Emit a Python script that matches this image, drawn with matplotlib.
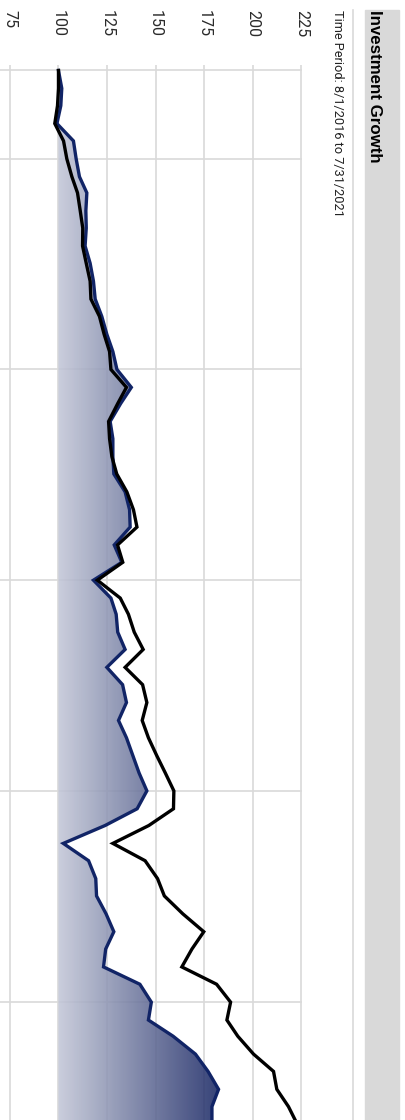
import numpy as np
import pandas as pd
import matplotlib
matplotlib.use('Agg')
import matplotlib.pyplot as plt
import matplotlib.dates as mdates
from matplotlib import font_manager
from matplotlib.colors import LinearSegmentedColormap
from matplotlib.lines import Line2D
from matplotlib.patches import Rectangle
from matplotlib.transforms import blended_transform_factory

# month-end values, growth of 100 from 7/31/2016
dates = pd.date_range('2016-07-31', periods=61, freq=pd.offsets.MonthEnd())
fund = [100.0, 101.7, 101.2, 99.2, 107.7, 109.1, 110.8, 114.6, 114.1, 114.3,
        113.7, 116.3, 118.0, 118.9, 122.3, 124.9, 128.0, 130.1, 137.5, 132.0,
        126.6, 128.0, 128.0, 128.5, 134.3, 136.6, 136.9, 128.7, 132.6, 118.0,
        127.0, 129.7, 130.5, 134.3, 124.9, 133.0, 135.0, 130.9, 135.0, 138.3,
        141.5, 145.5, 140.5, 124.0, 102.5, 115.5, 119.2, 119.6, 124.5, 128.5,
        124.3, 123.2, 141.9, 147.8, 146.3, 159.0, 170.5, 177.0, 182.4, 179.0,
        179.0]
bench = [100.0, 100.0, 99.5, 98.1, 102.6, 104.3, 106.9, 109.8, 111.2, 112.5,
         112.4, 114.3, 116.3, 116.7, 121.1, 123.5, 126.3, 127.0, 135.0, 130.5,
         125.8, 126.3, 127.5, 130.0, 135.2, 138.6, 140.4, 130.4, 133.1, 120.0,
         131.8, 136.0, 139.0, 143.6, 134.3, 143.3, 145.5, 143.1, 146.3, 150.6,
         155.0, 159.4, 159.2, 146.5, 128.0, 144.6, 151.0, 154.5, 164.0, 174.8,
         168.7, 163.5, 181.4, 188.6, 186.7, 192.3, 200.4, 210.7, 212.4, 218.4,
         223.0]
value_ticks = [75, 100, 125, 150, 175, 200, 225]
grid_dates = pd.to_datetime(['2016-07-31', '2016-12-31', '2017-12-31',
                             '2018-12-31', '2019-12-31', '2020-12-31'])
title = 'Investment Growth'
period = 'Time Period: 8/1/2016 to 7/31/2021'

names = {f.name for f in font_manager.fontManager.ttflist}
narrow = 'Liberation Sans Narrow' if 'Liberation Sans Narrow' in names else 'Roboto'
narrow_size = 11.4 if narrow == 'Liberation Sans Narrow' else 9.2

W, H = 405, 1120
fig = plt.figure(figsize=(W / 100, H / 100), dpi=100)
# plot area: x 0..302 px, y 65..1130 px (cut off by the figure edge)
ax = fig.add_axes([0, (H - 1130) / H, 302 / W, 1065 / H])

y = mdates.date2num(dates)
top = y[0] - 9.5
bottom = y[-1] + 9.5

ax.set_xlim(69.9, 225.36)
ax.set_ylim(bottom, top)
for s in ax.spines.values():
    s.set_visible(False)
ax.set_xticks(value_ticks)
ax.set_yticks(mdates.date2num(grid_dates))
ax.tick_params(length=0, labelbottom=False, labelleft=False)
ax.grid(True, color='#d9d9d9', lw=1.2, zorder=0)
ax.set_axisbelow(True)

# gradient fill between 100 and the fund line
poly = ax.fill_betweenx(y, 100, fund, facecolor='none', edgecolor='none')
cmap = LinearSegmentedColormap.from_list('grow', ['#c4c8d8', '#162462'])
grad = np.linspace(0, 1, 256).reshape(1, -1)
im = ax.imshow(grad, extent=[100, 185, bottom, top], aspect='auto', cmap=cmap,
               alpha=0.88, zorder=2, interpolation='bilinear')
im.set_clip_path(poly.get_paths()[0], transform=ax.transData)
ax.set_xlim(69.9, 225.36)
ax.set_ylim(bottom, top)

ax.plot(fund, y, color='#112466', lw=2.4, zorder=3, solid_joinstyle='miter')
ax.plot(bench, y, color='black', lw=2.4, zorder=4, solid_joinstyle='miter')

# value labels along the top, rotated like the rest of the chart
tr = blended_transform_factory(ax.transData, fig.transFigure)
for v in value_ticks:
    ax.text(v, 1 - 10 / H, str(v), transform=tr, rotation=-90, ha='center',
            va='top', fontsize=11.5, family=['Roboto', 'DejaVu Sans'],
            weight='normal', color='#2a2a2a')

fig.patches.append(Rectangle((365 / W, 0), 34 / W, 1 - 10 / H,
                             transform=fig.transFigure, color='#d9d9d9', zorder=0))
fig.lines.append(Line2D([353 / W, 353 / W], [0, 1 - 10 / H],
                        transform=fig.transFigure, color='#d9d9d9', lw=1.2))
fig.text(375 / W, 1 - 10 / H, title, rotation=-90, ha='center', va='top',
         fontsize=12.2, weight='bold', family=['Liberation Sans', 'DejaVu Sans'])
fig.text(337.5 / W, 1 - 10 / H, period, rotation=-90, ha='center', va='top',
         fontsize=narrow_size, family=[narrow, 'DejaVu Sans'], color='#222222')

fig.savefig('out.png', dpi=100)
